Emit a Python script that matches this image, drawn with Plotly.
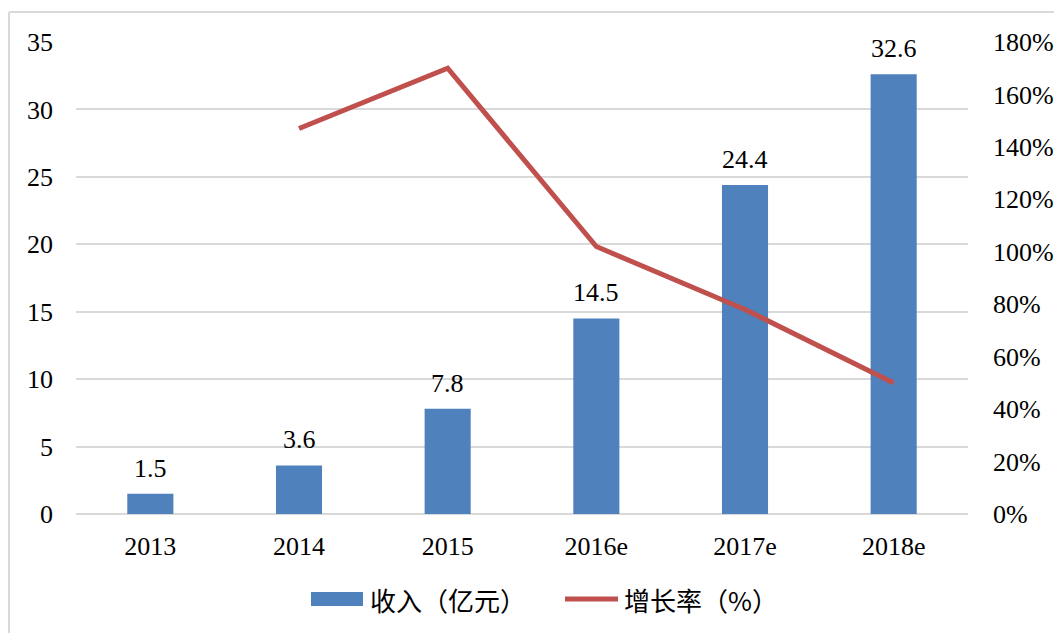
import plotly.graph_objects as go

years = ["2013", "2014", "2015", "2016e", "2017e", "2018e"]
revenue = [1.5, 3.6, 7.8, 14.5, 24.4, 32.6]
growth = [None, 147, 170, 102, 78, 50]
left_ticks = [0, 5, 10, 15, 20, 25, 30, 35]
right_ticks = [0, 20, 40, 60, 80, 100, 120, 140, 160, 180]
names = ["收入（亿元）", "增长率（%）"]

BAR_C = "#4F81BD"
LINE_C = "#C0504D"
GRID_C = "#d9d9d9"
FONT = "Liberation Serif, 'Times New Roman', 'Noto Sans CJK SC', serif"
CJK = "'Noto Sans CJK SC', sans-serif"

# page body has an 8px margin, so the figure is sized to fit the window
W, H = 1054, 625
L, R, T, B = 68, 94, 34, 119
PW, PH = W - L - R, H - T - B


def px(x):
    return (x - L) / PW


def py(y):
    return (H - B - y) / PH


fig = go.Figure()
fig.add_trace(go.Bar(
    x=years, y=revenue, name=names[0],
    marker=dict(color=BAR_C, line=dict(width=0)),
    showlegend=False,
))
fig.add_trace(go.Scatter(
    x=years, y=growth, name=names[1], yaxis="y2", mode="lines",
    line=dict(color=LINE_C, width=5), showlegend=False,
))

# value labels (category index positions on the category axis)
for i, v in enumerate(revenue):
    fig.add_annotation(x=i, y=v, xref="x", yref="y", text=f"{v:.1f}",
                       showarrow=False, yanchor="bottom", yshift=9,
                       font=dict(size=26, family=FONT, color="#000000"))

fig.update_layout(
    width=W, height=H,
    margin=dict(l=L, r=R, t=T, b=B, autoexpand=False),
    paper_bgcolor="white", plot_bgcolor="white",
    font=dict(family=FONT, size=26, color="#000000"),
    bargap=0.69,
    xaxis=dict(type="category", range=[-0.5, 5.5], showgrid=False,
               showline=False, ticks="", tickfont=dict(size=26),
               ticklabelstandoff=14),
    yaxis=dict(range=[0, 35], tickvals=left_ticks, showgrid=True,
               gridcolor=GRID_C, gridwidth=2, zeroline=True,
               zerolinecolor=GRID_C, zerolinewidth=2, showline=False,
               ticks="", ticklabelstandoff=22, tickfont=dict(size=26)),
    yaxis2=dict(range=[0, 180], tickvals=right_ticks,
                ticktext=[f"{v}%" for v in right_ticks], overlaying="y",
                side="right", showgrid=False, zeroline=False, showline=False,
                ticks="", ticklabelstandoff=24, tickfont=dict(size=26)),
    showlegend=False,
)

# outer frame (top and left edges visible)
fig.add_shape(type="line", xref="paper", yref="paper", x0=px(1), x1=px(W + 20),
              y0=py(4), y1=py(4), line=dict(color=GRID_C, width=2))
fig.add_shape(type="line", xref="paper", yref="paper", x0=px(1), x1=px(1),
              y0=py(H + 20), y1=py(4), line=dict(color=GRID_C, width=2))

# legend
ly = 591
fig.add_shape(type="rect", xref="paper", yref="paper", x0=px(303), x1=px(355),
              y0=py(598), y1=py(584), fillcolor=BAR_C, line=dict(width=0))
fig.add_annotation(xref="paper", yref="paper", x=px(360), y=py(ly), text=names[0],
                   showarrow=False, xanchor="left", yanchor="middle",
                   font=dict(size=26, family=CJK, color="#000000"))
fig.add_shape(type="line", xref="paper", yref="paper", x0=px(557), x1=px(610),
              y0=py(ly), y1=py(ly), line=dict(color=LINE_C, width=5))
fig.add_annotation(xref="paper", yref="paper", x=px(614), y=py(ly), text=names[1],
                   showarrow=False, xanchor="left", yanchor="middle",
                   font=dict(size=26, family=CJK, color="#000000"))

fig.write_html("out.html")
